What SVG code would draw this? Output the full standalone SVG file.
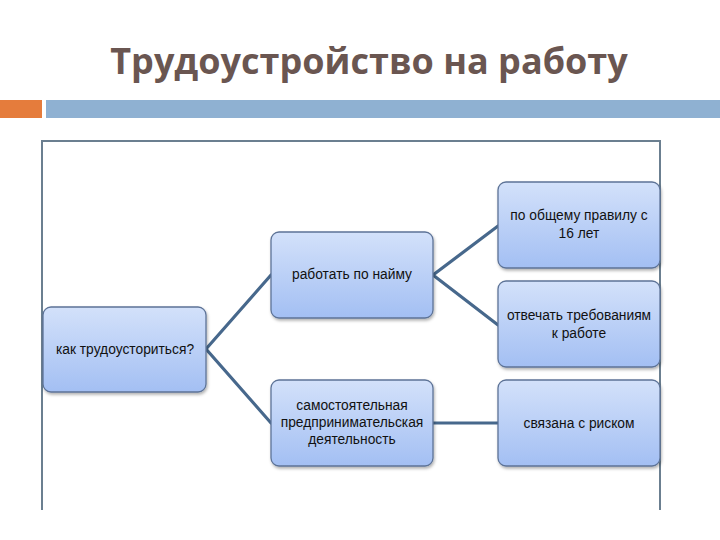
<svg xmlns="http://www.w3.org/2000/svg" width="720" height="540" viewBox="0 0 720 540">
<defs>
<linearGradient id="g" x1="0" y1="0" x2="0" y2="1">
<stop offset="0" stop-color="#d3e1fa"/>
<stop offset="1" stop-color="#a3bff3"/>
</linearGradient>
<filter id="sh" x="-10%" y="-10%" width="125%" height="130%">
<feDropShadow dx="1" dy="2" stdDeviation="1.5" flood-color="#000" flood-opacity="0.3"/>
</filter>
<style>
.n rect{fill:url(#g);stroke:#5d7397;stroke-width:1.3;filter:url(#sh)}
.n text{font-family:"Liberation Sans","DejaVu Sans",sans-serif;font-size:13.8px;fill:#111;text-anchor:middle}
.c{stroke:#47688c;stroke-width:3.2;fill:none;stroke-linecap:round}
.f{stroke:#6b7f90;stroke-width:2;fill:none}
</style>
</defs>
<rect width="720" height="540" fill="#fff"/>
<text x="369" y="74" font-family="'Open Sans','DejaVu Sans',sans-serif" font-weight="700" font-size="36" fill="#6a5651" text-anchor="middle">Трудоустройство на работу</text>
<rect x="0" y="100" width="42" height="18" fill="#e57c3c"/>
<rect x="46" y="100" width="674" height="18" fill="#8fb1d2"/>
<g id="frame">
<path class="f" d="M42 510 V141 H660 V510"/>
</g>
<g id="connectors">
<path class="c" d="M206 349 L271 275 M206 349 L271 423"/>
<path class="c" d="M433 275 L498 226 M433 275 L498 325"/>
<path class="c" d="M433 423 H498"/>
</g>
<g id="root" class="n">
<rect x="43" y="307" width="163" height="85" rx="8"/>
<text x="125" y="354">как трудоусториться?</text>
</g>
<g id="hire" class="n">
<rect x="271" y="232" width="162" height="86" rx="8"/>
<text x="352" y="279">работать по найму</text>
</g>
<g id="self" class="n">
<rect x="271" y="380" width="162" height="86" rx="8"/>
<text x="352" y="410">самостоятельная</text>
<text x="352" y="427">предпринимательская</text>
<text x="352" y="444">деятельность</text>
</g>
<g id="age" class="n">
<rect x="498" y="182" width="162" height="86" rx="8"/>
<text x="579" y="220">по общему правилу с</text>
<text x="579" y="238">16 лет</text>
</g>
<g id="req" class="n">
<rect x="498" y="281" width="162" height="86" rx="8"/>
<text x="579" y="320">отвечать требованиям</text>
<text x="579" y="338">к работе</text>
</g>
<g id="risk" class="n">
<rect x="498" y="380" width="162" height="86" rx="8"/>
<text x="579" y="428">связана с риском</text>
</g>
</svg>
